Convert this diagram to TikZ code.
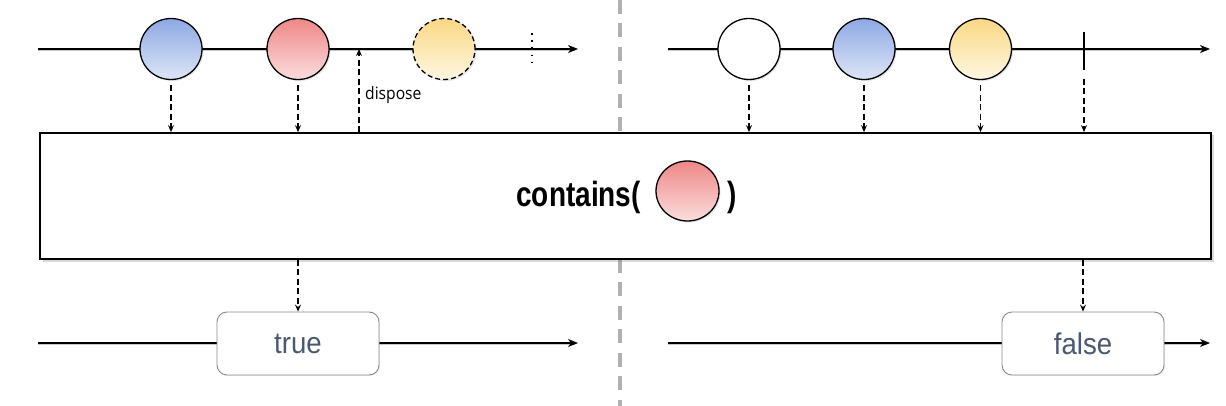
\documentclass[tikz,border=0pt]{standalone}
\usepackage{fontspec}
\setmainfont{Liberation Sans}
\newfontfamily\dispfont[FakeStretch=0.92]{Open Sans}
\newfontfamily\condsans[FakeStretch=0.8]{Liberation Sans}
\newfontfamily\valsans[FakeStretch=0.92]{Liberation Sans}
\usetikzlibrary{shapes.geometric,arrows.meta,shadows}
\definecolor{blueT}{HTML}{8DA8E3}
\definecolor{blueB}{HTML}{DDE6F7}
\definecolor{redT}{HTML}{EF8787}
\definecolor{redB}{HTML}{FBDDDD}
\definecolor{yelT}{HTML}{FAD885}
\definecolor{yelB}{HTML}{FEF7E1}
\definecolor{divgray}{HTML}{B0B0B0}
\definecolor{valtext}{HTML}{4A5872}
\definecolor{valborder}{HTML}{8A8A8A}
\begin{document}
\begin{tikzpicture}[x=1pt,y=-1pt,
  marble/.style={ellipse, draw=black, line width=1.3pt, minimum width=62pt, minimum height=61pt, inner sep=0pt,
    drop shadow={shadow xshift=1.5pt,shadow yshift=-1.5pt,opacity=0.2}},
  bluem/.style={marble, top color=blueT, bottom color=blueB},
  redm/.style={marble, top color=redT, bottom color=redB},
  yelm/.style={marble, top color=yelT, bottom color=yelB},
  whitem/.style={marble, fill=white},
  timeline/.style={line width=1.6pt, -{Stealth[length=10pt,width=8pt,inset=3pt]}},
  lshadow/.style={draw=black!22, line width=1.6pt, transform canvas={yshift=-1.6pt}},
  dasharrow/.style={line width=1.2pt, dash pattern=on 6pt off 3.5pt, -{Stealth[length=7pt,width=6pt,inset=2.5pt]}},
  valbox/.style={draw=valborder, line width=0.9pt, rounded corners=10pt, fill=white, minimum width=162pt, minimum height=63pt,
    text=valtext, font=\valsans\fontsize{30}{32}\selectfont, inner sep=0pt,
    drop shadow={shadow xshift=1pt,shadow yshift=-1pt,opacity=0.15}},
  optext/.style={inner sep=0pt, font=\condsans\bfseries\fontsize{35}{38}\selectfont},
]
\useasboundingbox (0,0) rectangle (1226,406);
% divider
\coordinate (divT) at (620,0);
\coordinate (divB) at (620,406);
\draw[divgray, line width=3.5pt, dash pattern=on 14pt off 9.5pt] (divT) -- (divB);

% top-left timeline
\coordinate (tlS) at (38,49);
\coordinate (tlE) at (578,49);
\draw[lshadow] (tlS) -- (575,49);
\draw[timeline] (tlS) -- (tlE);
\node[bluem] (lb) at (171,49) {};
\node[redm] (lr) at (298,49) {};
\node[yelm, dash pattern=on 5pt off 3pt] (ly) at (444,49) {};
\coordinate (dotT) at (532,33);
\coordinate (dotB) at (532,64);
\draw[line width=1.8pt, dash pattern=on 1.6pt off 5.6pt] (dotT) -- (dotB);
\coordinate (dtop) at (359,49);

% top-right timeline
\coordinate (trS) at (668,49);
\coordinate (trE) at (1210,49);
\draw[lshadow] (trS) -- (1207,49);
\draw[timeline] (trS) -- (trE);
\node[whitem] (rw) at (749,49) {};
\node[bluem] (rb) at (864,49) {};
\node[yelm] (ry) at (980.5,49) {};
\coordinate (barT) at (1084,32);
\coordinate (barB) at (1084,70);
\draw[line width=1.5pt] (barT) -- (barB);

% operator box
\node[draw=black, fill=white, line width=1.8pt, minimum width=1171pt, minimum height=126pt, inner sep=0pt,
  drop shadow={shadow xshift=2.5pt,shadow yshift=-2.5pt,opacity=0.3}] (box) at (625.5,196) {};
\node[optext, anchor=base east] (ctext) at (641,207) {contains(};
\node[redm, minimum width=63pt, minimum height=60pt] (cm) at (687.5,191) {};
\node[optext, anchor=base west] (cpar) at (727,207) {)};

% arrows into operator
\draw[dasharrow, shorten <=5pt] (lb) -- (lb |- box.north);
\draw[dasharrow, shorten <=5pt] (lr) -- (lr |- box.north);
\draw[dasharrow] (dtop |- box.north) -- (dtop);
\node[anchor=base west, inner sep=0pt, font=\dispfont\fontsize{17}{19}\selectfont] (disp) at (365,100) {dispose};
\draw[dasharrow, shorten <=5pt] (rw) -- (rw |- box.north);
\draw[dasharrow, shorten <=5pt] (rb) -- (rb |- box.north);
\draw[dasharrow, shorten <=5pt] (ry) -- (ry |- box.north);
\draw[dasharrow, shorten <=9pt] (barB) -- (barB |- box.north);

% bottom-left output
\coordinate (blS) at (38,343);
\coordinate (blE) at (578,343);
\draw[lshadow] (blS) -- (575,343);
\draw[timeline] (blS) -- (blE);
\node[valbox] (tv) at (298,343.5) {true};
\draw[dasharrow] (tv |- box.south) -- (tv.north);

% bottom-right output
\coordinate (brS) at (668,343);
\coordinate (brE) at (1210,343);
\draw[lshadow] (brS) -- (1207,343);
\draw[timeline] (brS) -- (brE);
\node[valbox] (fv) at (1083,343.5) {false};
\draw[dasharrow] (fv |- box.south) -- (fv.north);
\end{tikzpicture}
\end{document}
